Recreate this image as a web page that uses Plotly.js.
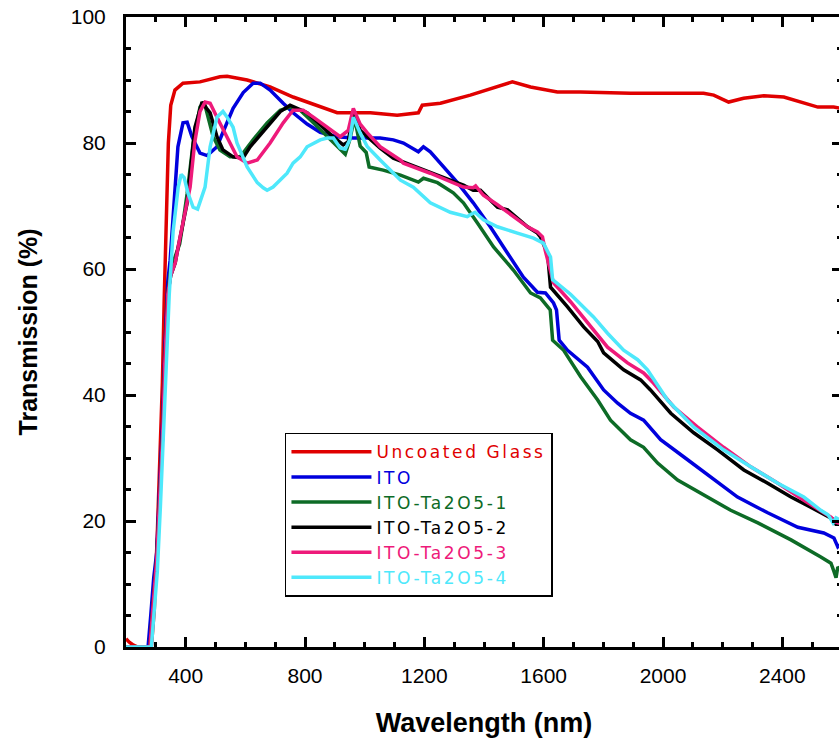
<!DOCTYPE html>
<html>
<head>
<meta charset="utf-8">
<script src="https://cdn.plot.ly/plotly-3.0.1.min.js"></script>
<style>
html, body { margin: 0; padding: 0; overflow: hidden; background: #fff; }
#chart { width: 845px; height: 743px; }
.legendtext { letter-spacing: 2.6px; }
</style>
</head>
<body>
<div id="chart"></div>
<script>
// Wavelength (nm) and transmission (%)
const seriesNames = ["Uncoated Glass", "ITO", "ITO-Ta2O5-1", "ITO-Ta2O5-2", "ITO-Ta2O5-3", "ITO-Ta2O5-4"];

const glassWl = [200, 210, 225, 240, 285, 295, 305, 315, 322, 328, 335, 342, 350, 364, 391, 448, 515, 539, 606, 683, 760, 851, 908, 968, 1019, 1109, 1180, 1193, 1254, 1354, 1445, 1495, 1556, 1646, 1723, 1891, 2015, 2136, 2170, 2220, 2270, 2338, 2405, 2462, 2519, 2572, 2600];
const glassT  = [1.3, 0.8, 0.3, 0, 0, 6, 18, 32, 42, 55, 70, 80, 86, 88.4, 89.5, 89.7, 90.5, 90.6, 90.0, 88.9, 87.3, 85.7, 84.8, 84.8, 84.8, 84.4, 84.8, 86, 86.3, 87.6, 88.9, 89.7, 88.9, 88.1, 88.1, 87.9, 87.9, 87.9, 87.6, 86.5, 87.1, 87.5, 87.3, 86.5, 85.7, 85.7, 85.5];

const itoWl = [200, 274, 283, 293, 303, 313, 323, 330, 340, 348, 364, 374, 391, 405, 421, 448, 472, 492, 505, 525, 559, 593, 626, 650, 683, 727, 760, 807, 851, 908, 962, 1019, 1052, 1096, 1130, 1180, 1197, 1220, 1264, 1311, 1364, 1421, 1479, 1532, 1579, 1606, 1633, 1643, 1652, 1680, 1747, 1801, 1848, 1891, 1935, 1992, 2069, 2160, 2250, 2351, 2452, 2539, 2573, 2586, 2600];
const itoT  = [0, 0, 5, 11, 15, 26, 36, 47, 58, 61.4, 73, 79.4, 83.2, 83.3, 81, 78.4, 78, 78.9, 79.4, 81.7, 85.5, 88, 89.5, 89.5, 88.4, 86.3, 84.8, 83, 81.7, 81, 80.8, 80.8, 80.8, 80.5, 80, 78.6, 79.4, 78.6, 76.2, 73.7, 70.5, 66.7, 62.5, 58.7, 56.3, 56.2, 54.6, 53.5, 48.7, 47.1, 44.4, 40.8, 38.7, 37.1, 36, 32.9, 30.2, 27, 23.8, 21.3, 19, 18.1, 17.3, 15.9, 16.5];

const ta1Wl = [200, 280, 293, 303, 313, 323, 330, 340, 350, 365, 380, 390, 405, 425, 448, 462, 475, 492, 515, 549, 583, 626, 673, 717, 750, 784, 828, 861, 908, 935, 950, 966, 985, 1005, 1015, 1062, 1120, 1180, 1197, 1244, 1297, 1331, 1378, 1432, 1499, 1556, 1589, 1613, 1622, 1630, 1667, 1724, 1781, 1824, 1891, 1935, 1982, 2049, 2126, 2227, 2318, 2429, 2529, 2563, 2573, 2580, 2586, 2600];
const ta1T  = [0, 0, 8, 14, 24, 34, 45, 56, 60, 62, 64, 67, 72, 80, 85.7, 86.5, 84.1, 81, 78.9, 77.8, 77.8, 80.5, 83.2, 85.2, 85.7, 85.2, 83.2, 81.6, 79.4, 78.2, 80.5, 84, 79.5, 78.5, 76.2, 75.7, 74.9, 73.8, 74.4, 73.7, 72.1, 70.5, 67.3, 63.5, 59.8, 56.2, 55.4, 54, 53.5, 48.7, 47.1, 42.9, 39.2, 36, 32.9, 31.7, 29.2, 26.5, 24.4, 21.7, 19.7, 17, 14.3, 13.3, 12, 11, 12.7, 12];

const ta2Wl = [200, 280, 293, 303, 313, 323, 330, 340, 350, 365, 375, 390, 405, 431, 455, 470, 482, 505, 525, 559, 592, 616, 673, 717, 750, 807, 851, 894, 928, 945, 962, 985, 1009, 1052, 1096, 1130, 1220, 1287, 1331, 1364, 1388, 1422, 1445, 1479, 1512, 1546, 1579, 1589, 1599, 1613, 1623, 1680, 1734, 1781, 1801, 1868, 1925, 1958, 2026, 2103, 2183, 2271, 2351, 2429, 2495, 2553, 2573, 2580, 2600];
const ta2T  = [0, 0, 8, 14, 24, 34, 45, 56, 59, 61, 63.5, 67, 70.5, 82.5, 86.5, 85.5, 84.8, 81, 78.9, 77.8, 77.6, 79.4, 82.5, 85, 86, 84.8, 82.9, 81, 79.7, 80.2, 85.2, 82, 81, 79.2, 77.6, 77, 75.4, 74.1, 73.3, 72.5, 72.5, 71, 69.8, 69.4, 68.1, 66.7, 65.7, 65.1, 64, 62.5, 57.1, 54, 50.8, 48.5, 46.7, 44, 42.4, 40.8, 37.1, 34, 31.3, 28.1, 26, 23.8, 22.2, 20.6, 20.2, 19.5, 19.5];

const ta3Wl = [200, 280, 293, 303, 313, 323, 330, 340, 350, 365, 381, 405, 415, 430, 448, 465, 482, 505, 539, 572, 606, 640, 683, 727, 760, 794, 828, 875, 918, 945, 962, 985, 1009, 1052, 1120, 1130, 1220, 1331, 1364, 1372, 1398, 1445, 1499, 1546, 1579, 1596, 1605, 1633, 1690, 1757, 1814, 1881, 1935, 1968, 2036, 2116, 2203, 2294, 2385, 2472, 2539, 2563, 2580, 2600];
const ta3T  = [0, 0, 8, 14, 24, 34, 45, 56, 59, 61, 65, 71, 73, 80, 85, 86.5, 86.3, 84.1, 81, 77.8, 76.8, 77.3, 80, 83.2, 85.2, 85.2, 84.1, 82.5, 81, 82, 85.5, 83, 81.6, 79.4, 77.3, 76.8, 75.2, 73, 72.9, 73.2, 71.7, 70.2, 68.3, 66.7, 65.9, 65.1, 63, 57.8, 54.8, 50.8, 47.6, 45.1, 43.5, 41.9, 38.1, 34.9, 31.7, 28.6, 26, 23.3, 21.3, 20.6, 19.8, 19.5];

const ta4Wl = [200, 285, 295, 305, 315, 325, 335, 345, 358, 375, 385, 395, 408, 425, 440, 448, 465, 482, 505, 525, 539, 559, 572, 606, 640, 660, 673, 693, 717, 740, 760, 784, 807, 828, 851, 875, 895, 918, 935, 950, 962, 985, 1009, 1052, 1096, 1120, 1163, 1220, 1287, 1344, 1354, 1370, 1398, 1445, 1512, 1566, 1599, 1623, 1630, 1690, 1767, 1814, 1868, 1915, 1948, 2015, 2103, 2203, 2294, 2385, 2472, 2529, 2553, 2570, 2580, 2600];
const ta4T  = [0, 0, 6, 12, 22, 33, 45, 56, 66, 73, 75, 74.5, 72, 69.8, 69.5, 70.5, 73, 79.4, 84.1, 85, 84.1, 82.5, 80, 76.2, 73.7, 72.9, 72.5, 73, 74.1, 75.2, 76.8, 77.8, 79.4, 80, 80.5, 80.8, 80.8, 79.2, 79, 80.5, 84.1, 81.6, 79.4, 77.3, 75.2, 74.1, 73, 70.5, 69, 68.3, 68.6, 69, 67.8, 66.7, 65.7, 64.9, 64.1, 61.9, 58.3, 56, 52.4, 49.8, 47.1, 45.6, 44, 39.2, 34.9, 31.3, 28.6, 26, 23.8, 21.7, 21, 19.7, 20.5, 20];

const xTicks = [400, 800, 1200, 1600, 2000, 2400];
const yTicks = [0, 20, 40, 60, 80, 100];

const colors = ["#e00000", "#0000dd", "#0d6b26", "#000000", "#ee1a7a", "#4ee8fb"];
const xs = [glassWl, itoWl, ta1Wl, ta2Wl, ta3Wl, ta4Wl];
const ys = [glassT, itoT, ta1T, ta2T, ta3T, ta4T];

const FONT = "Liberation Sans, Arial, sans-serif";

const traces = seriesNames.map((n, i) => ({
  type: "scatter",
  mode: "lines",
  x: xs[i],
  y: ys[i],
  name: '<span style="color:' + colors[i] + '">' + n + '</span>',
  line: { color: colors[i], width: 3.5 }
}));

const axisCommon = {
  showline: true, linecolor: "#000", linewidth: 3,
  mirror: "ticks", ticks: "inside", ticklen: 10, tickwidth: 3, tickcolor: "#000",
  showgrid: false, zeroline: false,
  tickfont: { family: FONT, size: 21, color: "#000" }
};

const layout = {
  width: 845, height: 743,
  margin: { l: 126, r: 3, t: 17, b: 96 },
  paper_bgcolor: "#fff", plot_bgcolor: "#fff",
  showlegend: true,
  legend: {
    x: 0.222, y: 0.34, xanchor: "left", yanchor: "top",
    bgcolor: "#fff", bordercolor: "#000", borderwidth: 1.5,
    font: { family: "DejaVu Sans, sans-serif", size: 17, color: "#000" },
    itemwidth: 80
  },
  xaxis: Object.assign({}, axisCommon, {
    range: [200, 2600], tickvals: xTicks, ticktext: xTicks.map(String),
    minor: { dtick: 100, tick0: 0, ticks: "inside", ticklen: 5, tickwidth: 3, tickcolor: "#000" },
    ticklabelstandoff: 8,
    title: { text: "<b>Wavelength (nm)</b>", font: { family: FONT, size: 27, color: "#000" }, standoff: 27 }
  }),
  yaxis: Object.assign({}, axisCommon, {
    range: [0, 100], tickvals: yTicks, ticktext: yTicks.map(String),
    minor: { dtick: 5, tick0: 0, ticks: "inside", ticklen: 5, tickwidth: 3, tickcolor: "#000" },
    ticklabelstandoff: 13,
    title: { text: "<b>Transmission (%)</b>", font: { family: FONT, size: 25, color: "#000" }, standoff: 27 }
  })
};

Plotly.newPlot("chart", traces, layout, { displayModeBar: false, staticPlot: true });
</script>
</body>
</html>
